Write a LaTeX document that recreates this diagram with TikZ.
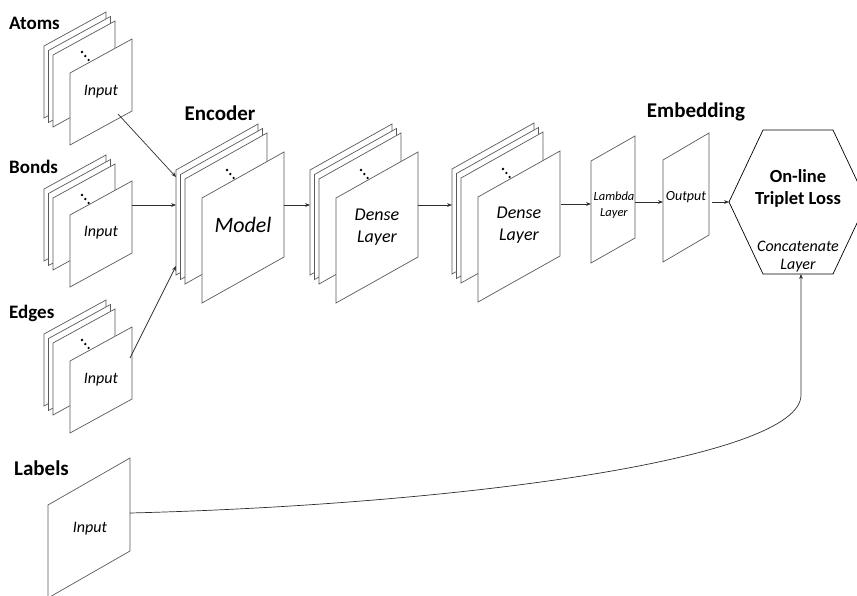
\documentclass[tikz,border=0pt]{standalone}
\usepackage{fontspec}
\setmainfont{Carlito}
\usetikzlibrary{arrows.meta}

\definecolor{plategray}{HTML}{5A5A5A}
\definecolor{linegray}{HTML}{2E2E2E}

\tikzset{
  platestyle/.style={draw=plategray, fill=white, line width=0.7pt, line join=miter},
  conn/.style={draw=linegray, line width=0.7pt, -{Stealth[length=5pt,width=3.8pt]}},
  groupname/.style={font=\fontsize{19}{21}\selectfont\bfseries, inner sep=0pt},
  stagename/.style={font=\fontsize{21}{23}\selectfont\bfseries, inner sep=0pt},
  inlabel/.style={font=\fontsize{16}{18}\selectfont\itshape, inner sep=0pt, align=center},
  biglabel/.style={font=\fontsize{18}{22}\selectfont\itshape, inner sep=0pt, align=center},
  smalllabel/.style={font=\fontsize{12.5}{16}\selectfont\itshape, inner sep=0pt, align=center},
}

% one slanted sheet: top-left corner (#1,#2), width #3, height #4, rise #5
\newcommand\drawslab[5]{%
  \draw[platestyle] (#1,#2) -- ++(#3,-#5) -- ++(0,#4) -- ++(-#3,#5) -- cycle;}

% a stack of three sheets, a row of dots and a front sheet
% #1,#2 base corner; #3 w; #4 h; #5 rise; #6,#7 front offset; #8,#9 dot offset
\newcommand\drawstack[9]{%
  \drawslab{#1}{#2}{#3}{#4}{#5}
  \drawslab{#1+4.5}{#2+4.5}{#3}{#4}{#5}
  \drawslab{#1+9}{#2+9}{#3}{#4}{#5}
  \fill[black] (#1+#8,#2+#9) circle (1.3)
               (#1+#8+3.3,#2+#9+4) circle (1.3)
               (#1+#8+6.6,#2+#9+8) circle (1.3);
  \drawslab{#1+#6}{#2+#7}{#3}{#4}{#5}}

\begin{document}
\begin{tikzpicture}[x=1pt,y=-1pt]
\useasboundingbox (0,0) rectangle (857,595);

% ---------- input stacks ----------
\drawstack{44}{46}{62}{72}{34}{26}{27}{38}{6}
\drawstack{44}{189}{62}{72}{34}{26}{26}{38}{6}
\drawstack{44}{334}{62}{72}{34}{26}{27}{38}{6}

\node[groupname, anchor=west] (atoms) at (9,23) {Atoms};
\node[groupname, anchor=west] (bonds) at (9,167) {Bonds};
\node[groupname, anchor=west] (edges) at (9,313) {Edges};

\node[inlabel] (inA) at (101,92) {Input};
\node[inlabel] (inB) at (101,233) {Input};
\node[inlabel] (inE) at (101,380) {Input};

% ---------- encoder and dense stacks ----------
\drawstack{176}{170}{82}{105}{46}{26}{28}{51}{0}
\drawstack{310}{170}{82}{105}{46}{26}{28}{51}{0}
\drawstack{452}{169}{82}{105}{46}{26}{28}{51}{0}

\node[stagename] (encoder) at (220,113) {Encoder};
\node[font=\fontsize{22}{24}\selectfont\itshape, inner sep=0pt] (model) at (243,225) {Model};
\node[biglabel] (dense1) at (377,227) {Dense\\Layer};
\node[biglabel] (dense2) at (519,225) {Dense\\Layer};

% ---------- embedding ----------
\drawslab{591}{161}{44}{102}{25}
\drawslab{663}{160}{46}{102}{27}
\node[smalllabel] (lambda) at (614,205) {Lambda\\Layer};
\node[font=\fontsize{14}{16}\selectfont\itshape, inner sep=0pt] (output) at (686,197) {Output};
\node[stagename] (embedding) at (696,112) {Embedding};

% ---------- loss hexagon ----------
\draw[platestyle, draw=black] (763,130) -- (833,130) -- (867,202) -- (833,274)
  -- (763,274) -- (729,202) -- cycle;
\node[font=\fontsize{18.5}{22}\selectfont\bfseries, inner sep=0pt, align=center]
  (loss) at (798,188) {On-line\\Triplet Loss};
\node[inlabel] (concat) at (798,257) {Concatenate\\Layer};

% ---------- labels input ----------
\drawslab{48}{505}{82}{93}{47}
\node[stagename, anchor=west] (labels) at (14,468) {Labels};
\node[inlabel] (inL) at (90,529) {Input};

% ---------- connection points ----------
\coordinate (atomsOut) at (118,114);
\coordinate (bondsOut) at (132,205);
\coordinate (edgesOut) at (130,358);
\coordinate (encInA) at (176,177);
\coordinate (encInB) at (176,205);
\coordinate (encInE) at (176,266);
\coordinate (encOut) at (284,205);
\coordinate (d1In) at (310,205);
\coordinate (d1Out) at (418,205);
\coordinate (d2In) at (452,205);
\coordinate (d2Out) at (561,204);
\coordinate (lamIn) at (591,204);
\coordinate (lamOut) at (635,202);
\coordinate (outIn) at (663,202);
\coordinate (outOut) at (712,202);
\coordinate (hexIn) at (729,202);
\coordinate (labOut) at (130,513);
\coordinate (bend) at (801,395);
\coordinate (hexBottom) at (801,274);

% ---------- connectors ----------
\draw[conn] (atomsOut) -- (encInA);
\draw[conn] (bondsOut) -- (encInB);
\draw[conn] (edgesOut) -- (encInE);
\draw[conn] (encOut) -- (d1In);
\draw[conn] (d1Out) -- (d2In);
\draw[conn] (d2Out) -- (lamIn);
\draw[conn] (lamOut) -- (outIn);
\draw[conn] (outOut) -- (hexIn);
\draw[conn] (labOut) .. controls (450,505) and (801,460) .. (bend) -- (hexBottom);
\end{tikzpicture}
\end{document}
